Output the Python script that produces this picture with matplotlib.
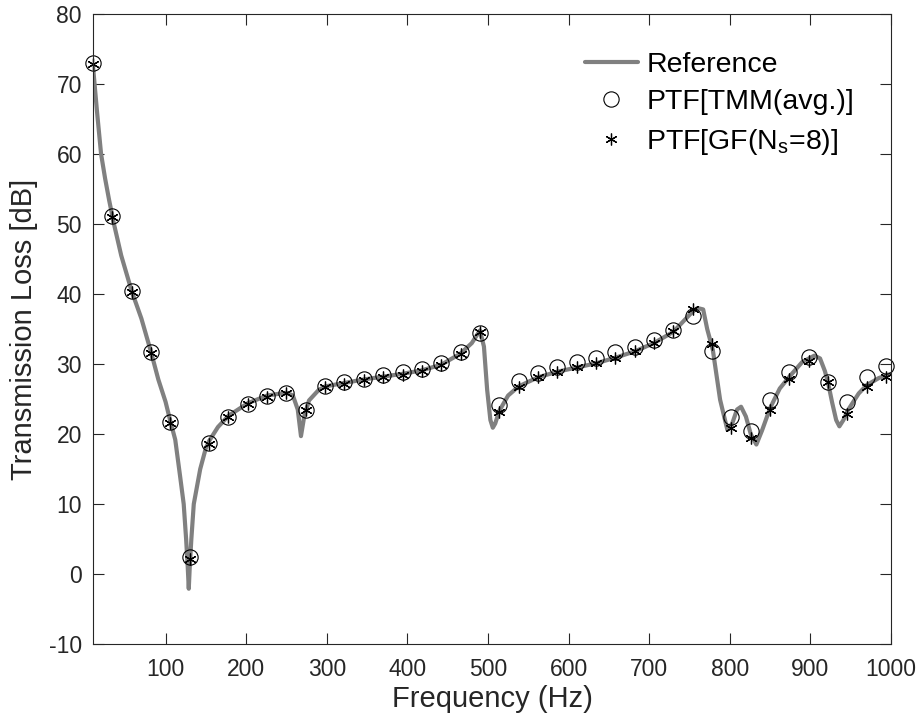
import numpy as np
import matplotlib
matplotlib.use('Agg')
import matplotlib.pyplot as plt

plt.rcParams['font.family'] = ['Liberation Sans', 'DejaVu Sans']
plt.rcParams['mathtext.fontset'] = 'custom'
plt.rcParams['mathtext.rm'] = 'Liberation Sans'
plt.rcParams['mathtext.it'] = 'Liberation Sans:italic'
plt.rcParams['axes.unicode_minus'] = False

# reference curve
ref_f = [10, 15, 20, 25, 30, 36, 45, 58, 70, 82, 91, 100, 106, 112, 118, 122.5, 125.5,
         127.5, 128.8, 130, 132, 135, 143, 150, 154, 165, 178, 202, 226, 250, 258, 264,
         268, 272, 278, 290, 298, 322, 346, 370, 394, 418, 442, 466, 480, 490, 495, 499,
         503, 506, 509, 514, 525, 538, 562, 586, 610, 634, 658, 682, 706, 730, 754, 760,
         767, 772, 779, 788, 797, 803, 809, 814, 820, 826, 833, 840, 850, 862, 874, 890,
         905, 912, 918, 922, 927, 932, 936, 941, 946, 960, 970, 985, 1000]
ref_tl = [72.5, 66.0, 60.0, 56.5, 53.4, 50.0, 45.5, 40.4, 36.5, 31.7, 27.8, 24.6, 21.8, 19.2,
          14.0, 10.0, 5.0, 1.0, -2.1, 1.0, 5.0, 10.0, 15.0, 18.0, 19.0, 21.0, 22.6, 24.4,
          25.5, 25.9, 25.5, 23.5, 19.7, 22.5, 24.8, 26.3, 26.8, 27.3, 27.8, 28.2, 28.6,
          29.1, 29.9, 31.5, 33.0, 34.8, 32.5, 26.3, 22.0, 20.9, 21.5, 23.3, 25.5, 26.8,
          28.1, 28.9, 29.5, 30.1, 30.9, 31.8, 33.0, 34.6, 37.5, 38.0, 37.8, 35.0, 32.0,
          24.9, 20.6, 21.5, 23.5, 23.9, 22.5, 20.0, 18.5, 20.5, 23.7, 26.5, 28.2, 30.3,
          31.2, 30.8, 29.0, 27.3, 24.5, 22.0, 21.1, 22.0, 23.3, 25.8, 27.0, 28.0, 28.6]

# marker frequencies
pt_f = [10, 34, 58, 82, 106, 130, 154, 178, 202, 226, 250, 274, 298, 322, 346, 370, 394,
        418, 442, 466, 490, 514, 538, 562, 586, 610, 634, 658, 682, 706, 730, 754, 778,
        802, 826, 850, 874, 898, 922, 946, 970, 994]
tmm_tl = [73.0, 51.1, 40.4, 31.7, 21.7, 2.4, 18.7, 22.5, 24.3, 25.4, 25.9, 23.5, 26.8,
          27.4, 27.9, 28.4, 28.8, 29.3, 30.1, 31.7, 34.5, 24.2, 27.6, 28.7, 29.6, 30.3,
          30.9, 31.7, 32.4, 33.5, 34.9, 36.8, 31.9, 22.5, 20.5, 24.9, 28.8, 31.0, 27.4,
          24.6, 28.2, 29.7]
gf_tl = [72.9, 51.0, 40.3, 31.6, 21.6, 2.1, 18.6, 22.4, 24.3, 25.3, 25.8, 23.4, 26.7,
         27.2, 27.7, 28.1, 28.5, 29.0, 29.8, 31.4, 34.6, 23.2, 26.7, 28.1, 28.9, 29.6,
         30.2, 30.9, 31.8, 33.0, 34.7, 37.9, 32.8, 20.9, 19.5, 23.5, 27.8, 30.5, 27.4,
         22.9, 26.7, 28.2]

dark = (0.15, 0.15, 0.15)

fig = plt.figure(figsize=(9.21, 7.26), dpi=100)
ax = fig.add_axes([0.101, 0.1129, 0.8664, 0.8678])

ax.plot(ref_f, ref_tl, color=(0.5, 0.5, 0.5), lw=3, solid_joinstyle='round',
        solid_capstyle='round', label='Reference')
ax.plot(pt_f, tmm_tl, ls='none', marker='o', ms=11, mfc='none', mec='k', mew=0.8,
        clip_on=False, label='PTF[TMM(avg.)]')
ax.plot(pt_f, gf_tl, ls='none', marker=(6, 2, 0), ms=8.5, color='k', mew=0.9,
        clip_on=False, label=r'PTF[GF(N$_{\mathrm{s}}$=8)]')

ax.set_xlim(10, 1000)
ax.set_ylim(-10, 80)
ax.set_xticks(np.arange(100, 1001, 100))
ax.set_yticks(np.arange(-10, 81, 10))
ax.tick_params(direction='in', top=True, right=True, length=8, width=0.8,
               labelsize=16.5, colors=dark)
ax.tick_params(axis='x', pad=10)
ax.tick_params(axis='y', pad=8)
for s in ax.spines.values():
    s.set_color(dark)
    s.set_linewidth(0.8)

ax.set_xlabel('Frequency (Hz)', fontsize=21, color=dark, labelpad=3)
ax.set_ylabel('Transmission Loss [dB]', fontsize=21, color=dark, labelpad=8)

ax.legend(loc='upper left', bbox_to_anchor=(0.6165, 0.94), frameon=False,
          fontsize=20.5, handlelength=1.85, handletextpad=0.3, borderpad=0,
          labelspacing=0.4, borderaxespad=0)

fig.savefig('out.png', dpi=100)
